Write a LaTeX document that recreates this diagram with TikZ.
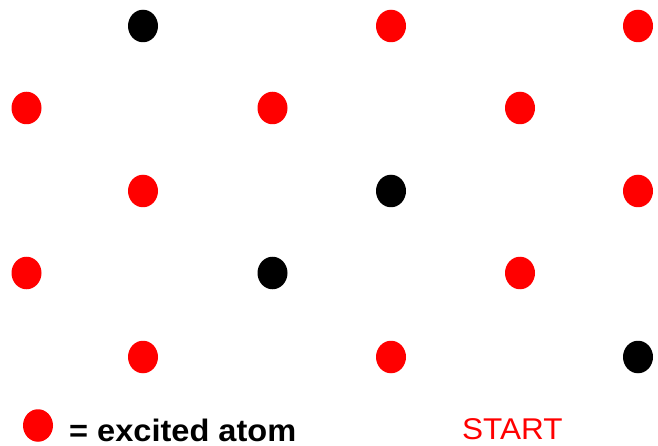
\documentclass[tikz,border=0pt]{standalone}
\usepackage{fontspec}
\setmainfont{Liberation Sans}
\usetikzlibrary{shapes.geometric}
\begin{document}
\begin{tikzpicture}[x=1pt,y=-1pt,
  atom/.style={fill=#1,draw=none,shape=ellipse,minimum width=30pt,minimum height=32.5pt,inner sep=0pt},
  legendtext/.style={anchor=base west,inner sep=0pt,xscale=1.05,font=\fontsize{31}{31}\selectfont\bfseries},
  starttext/.style={anchor=base west,inner sep=0pt,xscale=1.05,text=red,font=\fontsize{30}{30}\selectfont}]
\useasboundingbox (0,0) rectangle (658,446);
% row 1
\node[atom=black] (a11) at (143,26) {};
\node[atom=red] (a12) at (391,26) {};
\node[atom=red] (a13) at (638,26) {};
% row 2
\node[atom=red] (a21) at (26.5,108) {};
\node[atom=red] (a22) at (272.5,108) {};
\node[atom=red] (a23) at (520,108) {};
% row 3
\node[atom=red] (a31) at (143,191) {};
\node[atom=black] (a32) at (391,191) {};
\node[atom=red] (a33) at (638,191) {};
% row 4
\node[atom=red] (a41) at (26.5,273) {};
\node[atom=black] (a42) at (272.5,273) {};
\node[atom=red] (a43) at (520,273) {};
% row 5
\node[atom=red] (a51) at (143,357) {};
\node[atom=red] (a52) at (391,357) {};
\node[atom=black] (a53) at (638,357) {};
% legend
\node[atom=red] (leg) at (38,425.5) {};
\node[legendtext] (legt) at (69,441.5) {= excited atom};
\node[starttext] (start) at (462,439) {START};
\end{tikzpicture}
\end{document}
